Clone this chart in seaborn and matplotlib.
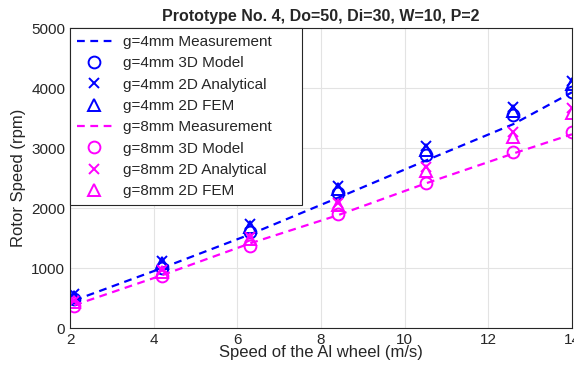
import matplotlib
matplotlib.use("Agg")
import matplotlib.pyplot as plt
import seaborn as sns
import numpy as np

# wheel speed (m/s)
speed = [2.1, 4.2, 6.3, 8.4, 10.5, 12.6, 14.0]

# g = 4 mm
meas_4 = [460, 1000, 1560, 2170, 2790, 3400, 3930]
model3d_4 = [480, 1000, 1600, 2250, 2880, 3550, 3930]
analyt_4 = [560, 1110, 1730, 2370, 3040, 3680, 4120]
fem_4 = [520, 1080, 1680, 2320, 2970, 3620, 4070]

# g = 8 mm
meas_8 = [380, 880, 1410, 1880, 2410, 2910, 3230]
model3d_8 = [360, 860, 1360, 1900, 2420, 2930, 3270]
analyt_8 = [450, 960, 1520, 2080, 2680, 3260, 3670]
fem_8 = [430, 940, 1490, 2050, 2620, 3180, 3580]

sns.set_style("white")
plt.rcParams['font.family'] = ['Liberation Sans', 'DejaVu Sans']

fig, ax = plt.subplots(figsize=(5.74, 3.70), dpi=100)
fig.subplots_adjust(left=0.122, right=0.9965, top=0.924, bottom=0.1135)

ms = 8.5
mew = 1.4
for color, g, meas, m3d, ana, fem in [("#0000ff", 4, meas_4, model3d_4, analyt_4, fem_4),
                                      ("#ff00ff", 8, meas_8, model3d_8, analyt_8, fem_8)]:
    sns.lineplot(x=speed, y=meas, ax=ax, color=color, linestyle=(0, (3.5, 2.5)), linewidth=1.6,
                 label=f"g={g}mm Measurement")
    sns.lineplot(x=speed, y=m3d, ax=ax, color=color, linestyle="none", marker="o", markersize=ms,
                 markerfacecolor="none", markeredgecolor=color, markeredgewidth=mew,
                 label=f"g={g}mm 3D Model")
    sns.lineplot(x=speed, y=ana, ax=ax, color=color, linestyle="none", marker="x", markersize=ms - 1,
                 markeredgecolor=color, markeredgewidth=mew,
                 label=f"g={g}mm 2D Analytical")
    sns.lineplot(x=speed, y=fem, ax=ax, color=color, linestyle="none", marker="^", markersize=ms,
                 markerfacecolor="none", markeredgecolor=color, markeredgewidth=mew,
                 label=f"g={g}mm 2D FEM")

ax.set_xlim(2, 14)
ax.set_ylim(0, 5000)
ax.set_xticks(np.arange(2, 15, 2))
ax.set_yticks(np.arange(0, 5001, 1000))
ax.grid(True, color="#e3e3e3", linewidth=0.8)
ax.tick_params(direction="in", length=4, labelsize=11, colors="#262626")
for s in ax.spines.values():
    s.set_color("#262626")
    s.set_linewidth(0.8)

ax.set_title("Prototype No. 4, Do=50, Di=30, W=10, P=2", fontsize=11.5, fontweight="bold", pad=5)
ax.set_xlabel("Speed of the Al wheel (m/s)", fontsize=12, labelpad=-1, color="#262626")
ax.set_ylabel("Rotor Speed (rpm)", fontsize=12, labelpad=4, color="#262626")

leg = ax.legend(loc="upper left", bbox_to_anchor=(0, 1, 0.462, 0), mode="expand",
                fontsize=11, frameon=True, fancybox=False, framealpha=1,
                edgecolor="#262626", borderaxespad=0, handlelength=2.3, labelspacing=0.48,
                borderpad=0.45, handletextpad=0.7)
leg.get_frame().set_linewidth(0.8)

fig.savefig("out.png", dpi=100)
